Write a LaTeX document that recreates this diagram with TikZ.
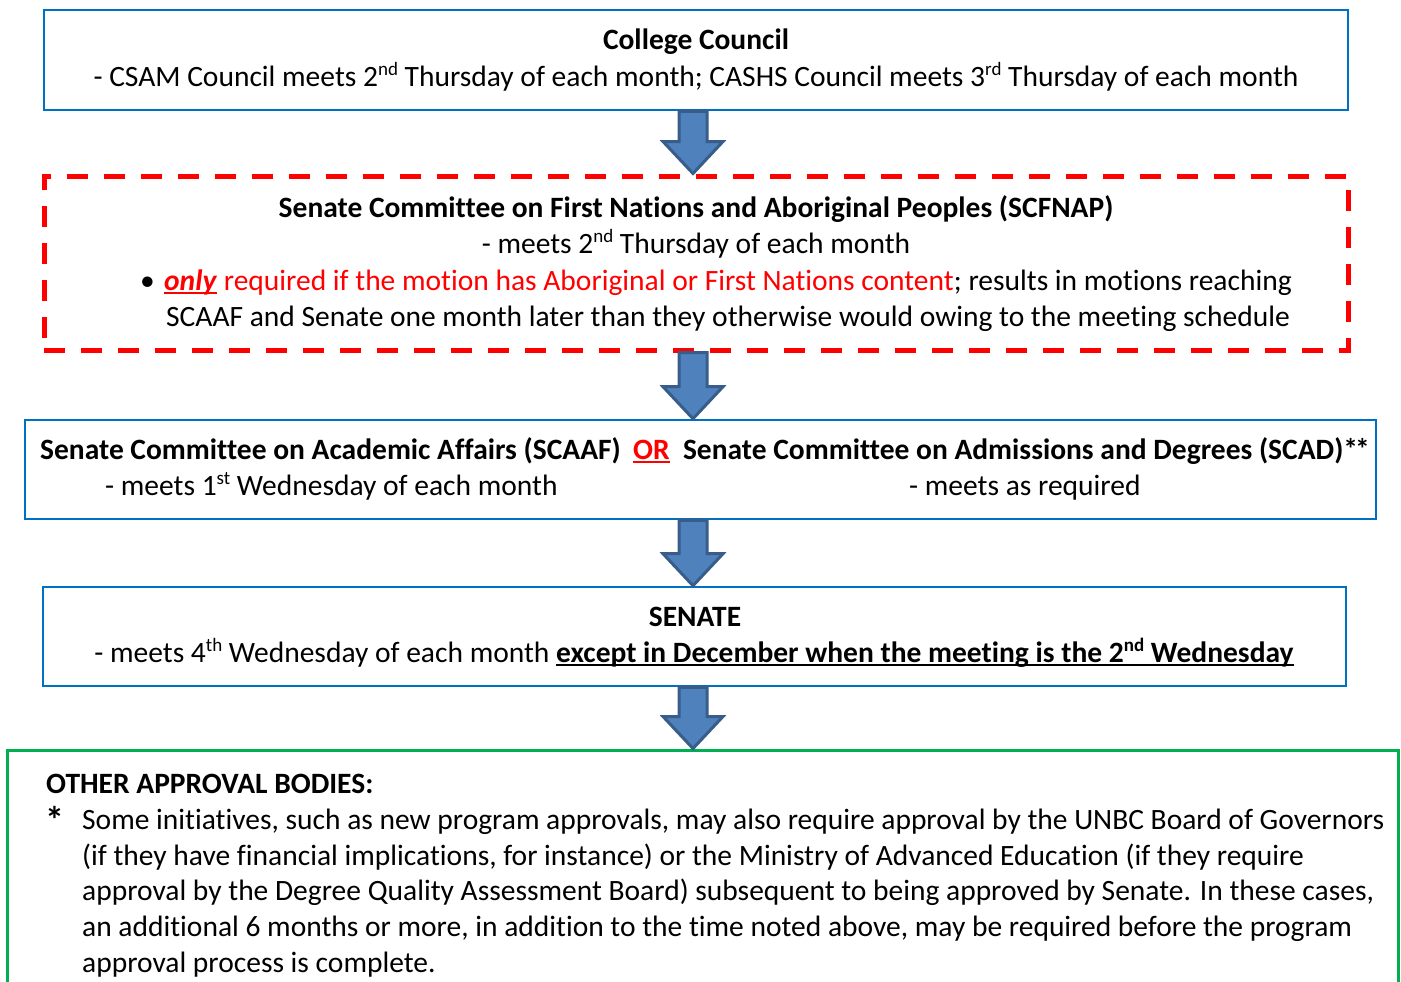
\documentclass[tikz,border=0pt]{standalone}
\usepackage{fontspec}
\setmainfont{Carlito}[Ligatures={NoCommon}]
\usetikzlibrary{calc}
\definecolor{boxblue}{RGB}{0,112,192}
\definecolor{arrfill}{RGB}{79,129,189}
\definecolor{arrline}{RGB}{56,93,138}
\definecolor{boxgreen}{RGB}{0,176,80}
\definecolor{myred}{RGB}{255,0,0}
\newcommand\supr[1]{\raisebox{11pt}{\fontsize{19}{19}\selectfont #1}}
\newcommand\myul[1]{\setbox0\hbox{#1}\rlap{\rule[-4pt]{\wd0}{2.2pt}}\box0\relax}
\begin{document}
\begin{tikzpicture}[x=1pt,y=1pt,
  bluebox/.style={draw=boxblue,line width=2.6pt,inner sep=0pt},
  redbox/.style={draw=myred,line width=5pt,dash pattern=on 21pt off 16pt,inner sep=0pt},
  greenbox/.style={draw=boxgreen,line width=3pt,inner sep=0pt},
  txt/.style={inner sep=0pt,font=\fontsize{29.5}{36}\selectfont},
  blockarrow/.style={fill=arrfill,draw=arrline,line width=3pt,line join=miter}]
\useasboundingbox (0,0) rectangle (1401,-982);
% boxes
\node[bluebox,minimum width=1304pt,minimum height=100pt] (cc) at (696,-60) {};
\node[redbox,minimum width=1304pt,minimum height=174pt] (scf) at (696,-263) {};
\node[bluebox,minimum width=1351pt,minimum height=99pt] (scaaf) at (700.5,-469.5) {};
\node[bluebox,minimum width=1303pt,minimum height=99pt] (sen) at (694.5,-636.5) {};
\node[greenbox,minimum width=1391pt,minimum height=280pt] (oth) at (702.5,-890) {};
% arrows
\newcommand\blockarr[2]{%
 \draw[blockarrow] let \p1=(#1.south), \p2=(#2.north) in
   (679,\y1) -- (707,\y1) -- (707,\y2+32) -- (723,\y2+32) -- (693,\y2) -- (663,\y2+32) -- (679,\y2+32) -- cycle;}
\blockarr{cc}{scf}
\blockarr{scf}{scaaf}
\blockarr{scaaf}{sen}
\blockarr{sen}{oth}
% box 1 text
\node[txt,anchor=base] (cc1) at (696,-50) {\textbf{College Council}};
\node[txt,anchor=base] (cc2) at (696,-87) {- CSAM Council meets 2\supr{nd} Thursday of each month; CASHS Council meets 3\supr{rd} Thursday of each month};
% box 2 text
\node[txt,anchor=base] (s1) at (696,-217) {\textbf{Senate Committee on First Nations and Aboriginal Peoples (SCFNAP)}};
\node[txt,anchor=base] (s2) at (696,-253) {- meets 2\supr{nd} Thursday of each month};
\node[txt,anchor=base west] (s3b) at (140,-290) {\textbullet};
\node[txt,anchor=base west] (s3) at (164,-290) {\color{myred}\myul{\textbf{\textit{only}}} required if the motion has Aboriginal or First Nations content\color{black}; results in motions reaching};
\node[txt,anchor=base west] (s4) at (166,-326) {SCAAF and Senate one month later than they otherwise would owing to the meeting schedule};
% box 3 text
\node[txt,anchor=base west] (a1) at (40,-459) {\textbf{Senate Committee on Academic Affairs (SCAAF)}};
\node[txt,anchor=base west] (a2) at (633,-459) {\color{myred}\myul{\textbf{OR}}};
\node[txt,anchor=base east] (a3) at (1370,-459) {\textbf{Senate Committee on Admissions and Degrees (SCAD)*\kern-3pt*}};
\node[txt,anchor=base west] (a4) at (105,-495) {- meets 1\supr{st} Wednesday of each month};
\node[txt,anchor=base west] (a5) at (909,-495) {- meets as required};
% box 4 text
\node[txt,anchor=base] (n1) at (695,-626) {\textbf{SENATE}};
\node[txt,anchor=base] (n2) at (694,-662) {- meets 4\supr{th} Wednesday of each month \myul{\textbf{except in December when the meeting is the 2\supr{nd} Wednesday}}};
% box 5 text
\node[txt,anchor=base west] (o1) at (46,-793) {\textbf{OTHER APPROVAL BODIES:}};
\node[txt,anchor=base west] (o2) at (45,-833) {\fontsize{38}{38}\selectfont\textbf{*}};
\node[txt,anchor=base west] (o3) at (82,-829) {Some initiatives, such as new program approvals, may also require approval by the UNBC Board of Governors};
\node[txt,anchor=base west] (o4) at (82,-865) {(if they have financial implications, for instance) or the Ministry of Advanced Education (if they require};
\node[txt,anchor=base west] (o5) at (82,-900) {approval by the Degree Quality Assessment Board) subsequent to being approved by Senate. In these cases,};
\node[txt,anchor=base west] (o6) at (82,-936) {an additional 6 months or more, in addition to the time noted above, may be required before the program};
\node[txt,anchor=base west] (o7) at (82,-972) {approval process is complete.};
\end{tikzpicture}
\end{document}
